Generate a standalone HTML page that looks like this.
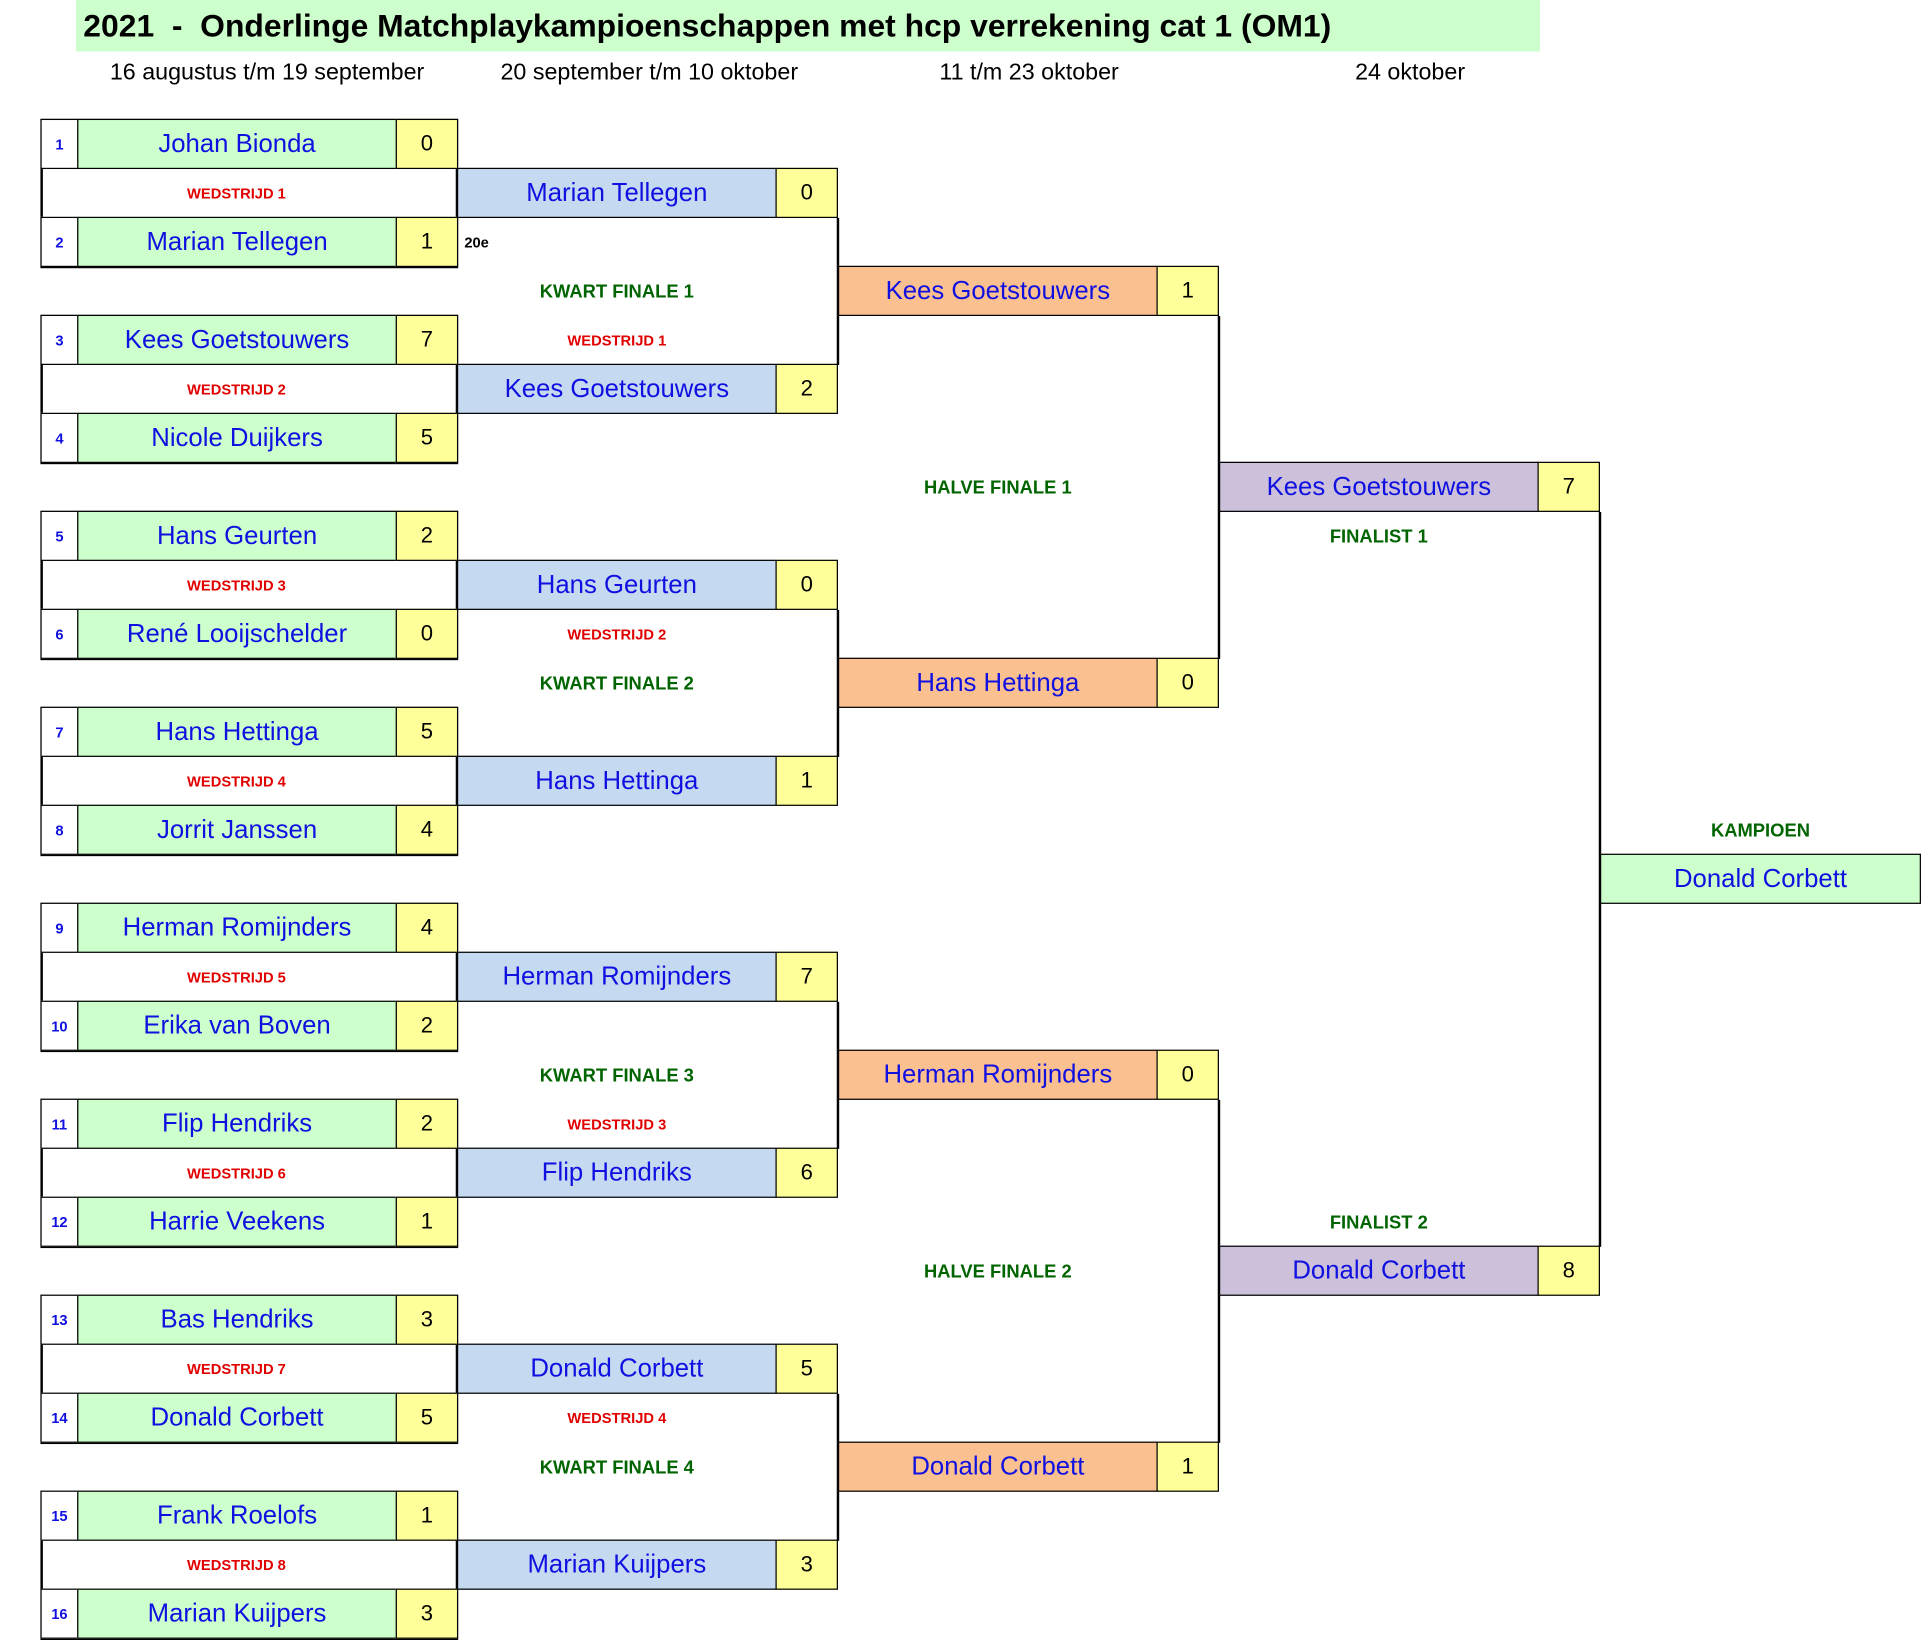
<!DOCTYPE html>
<html><head><meta charset="utf-8"><style>
html,body{margin:0;padding:0;background:#fff;width:1921px;height:1640px;overflow:hidden}
#w{position:absolute;left:0;top:0;width:1568px;height:1339px;transform:scale(1.2251,1.2248);transform-origin:0 0;font-family:"Liberation Sans",sans-serif}
#w div{position:absolute;box-sizing:border-box}
.b{border:1.5px solid #000;display:flex;align-items:center;justify-content:center;height:41px;color:#1010e0;font-size:21px;white-space:nowrap}
.g{background:#ccffcc}.y{background:#ffff99;color:#000!important;font-size:18px!important}.bl{background:#c5d9f1}.o{background:#fac090}.p{background:#ccc0da}.wt{background:#fff}
.n{font-size:12px!important;font-weight:bold}
.t{display:flex;align-items:center;justify-content:center;height:40px;font-weight:bold;white-space:nowrap}
.r{color:#e00000;font-size:12px}.gr{color:#006400;font-size:15px}
.v{background:#000;width:1.5px}
.h{font-size:19px;color:#000;white-space:nowrap;height:30px;display:flex;align-items:center;justify-content:center}
</style></head><body><div id="w">
<div style="left:62px;top:0;width:1195px;height:42px;background:#ccffcc;font-weight:bold;font-size:26px;padding-left:6px;line-height:42px;white-space:nowrap">2021 &nbsp;- &nbsp;Onderlinge Matchplaykampioenschappen met hcp verrekening cat 1 (OM1)</div>
<div class="h" style="left:68px;top:45px;width:300px">16 augustus t/m 19 september</div>
<div class="h" style="left:380px;top:45px;width:300px">20 september t/m 10 oktober</div>
<div class="h" style="left:690px;top:45px;width:300px">11 t/m 23 oktober</div>
<div class="h" style="left:1001px;top:45px;width:300px">24 oktober</div>

<div style="left:33px;top:97px;width:341px;height:122px;border:2px solid #000"></div>
<div class="b wt n" style="left:33px;top:97px;width:31px">1</div><div class="b g" style="left:63px;top:97px;width:261px">Johan Bionda</div><div class="b y" style="left:323px;top:97px;width:51px">0</div>
<div class="t r" style="left:33px;top:138px;width:320px">WEDSTRIJD 1</div>
<div class="b wt n" style="left:33px;top:177px;width:31px">2</div><div class="b g" style="left:63px;top:177px;width:261px">Marian Tellegen</div><div class="b y" style="left:323px;top:177px;width:51px">1</div>

<div style="left:33px;top:257px;width:341px;height:122px;border:2px solid #000"></div>
<div class="b wt n" style="left:33px;top:257px;width:31px">3</div><div class="b g" style="left:63px;top:257px;width:261px">Kees Goetstouwers</div><div class="b y" style="left:323px;top:257px;width:51px">7</div>
<div class="t r" style="left:33px;top:298px;width:320px">WEDSTRIJD 2</div>
<div class="b wt n" style="left:33px;top:337px;width:31px">4</div><div class="b g" style="left:63px;top:337px;width:261px">Nicole Duijkers</div><div class="b y" style="left:323px;top:337px;width:51px">5</div>

<div style="left:33px;top:417px;width:341px;height:122px;border:2px solid #000"></div>
<div class="b wt n" style="left:33px;top:417px;width:31px">5</div><div class="b g" style="left:63px;top:417px;width:261px">Hans Geurten</div><div class="b y" style="left:323px;top:417px;width:51px">2</div>
<div class="t r" style="left:33px;top:458px;width:320px">WEDSTRIJD 3</div>
<div class="b wt n" style="left:33px;top:497px;width:31px">6</div><div class="b g" style="left:63px;top:497px;width:261px">René Looijschelder</div><div class="b y" style="left:323px;top:497px;width:51px">0</div>

<div style="left:33px;top:577px;width:341px;height:122px;border:2px solid #000"></div>
<div class="b wt n" style="left:33px;top:577px;width:31px">7</div><div class="b g" style="left:63px;top:577px;width:261px">Hans Hettinga</div><div class="b y" style="left:323px;top:577px;width:51px">5</div>
<div class="t r" style="left:33px;top:618px;width:320px">WEDSTRIJD 4</div>
<div class="b wt n" style="left:33px;top:657px;width:31px">8</div><div class="b g" style="left:63px;top:657px;width:261px">Jorrit Janssen</div><div class="b y" style="left:323px;top:657px;width:51px">4</div>

<div style="left:33px;top:737px;width:341px;height:122px;border:2px solid #000"></div>
<div class="b wt n" style="left:33px;top:737px;width:31px">9</div><div class="b g" style="left:63px;top:737px;width:261px">Herman Romijnders</div><div class="b y" style="left:323px;top:737px;width:51px">4</div>
<div class="t r" style="left:33px;top:778px;width:320px">WEDSTRIJD 5</div>
<div class="b wt n" style="left:33px;top:817px;width:31px">10</div><div class="b g" style="left:63px;top:817px;width:261px">Erika van Boven</div><div class="b y" style="left:323px;top:817px;width:51px">2</div>

<div style="left:33px;top:897px;width:341px;height:122px;border:2px solid #000"></div>
<div class="b wt n" style="left:33px;top:897px;width:31px">11</div><div class="b g" style="left:63px;top:897px;width:261px">Flip Hendriks</div><div class="b y" style="left:323px;top:897px;width:51px">2</div>
<div class="t r" style="left:33px;top:938px;width:320px">WEDSTRIJD 6</div>
<div class="b wt n" style="left:33px;top:977px;width:31px">12</div><div class="b g" style="left:63px;top:977px;width:261px">Harrie Veekens</div><div class="b y" style="left:323px;top:977px;width:51px">1</div>

<div style="left:33px;top:1057px;width:341px;height:122px;border:2px solid #000"></div>
<div class="b wt n" style="left:33px;top:1057px;width:31px">13</div><div class="b g" style="left:63px;top:1057px;width:261px">Bas Hendriks</div><div class="b y" style="left:323px;top:1057px;width:51px">3</div>
<div class="t r" style="left:33px;top:1098px;width:320px">WEDSTRIJD 7</div>
<div class="b wt n" style="left:33px;top:1137px;width:31px">14</div><div class="b g" style="left:63px;top:1137px;width:261px">Donald Corbett</div><div class="b y" style="left:323px;top:1137px;width:51px">5</div>

<div style="left:33px;top:1217px;width:341px;height:122px;border:2px solid #000"></div>
<div class="b wt n" style="left:33px;top:1217px;width:31px">15</div><div class="b g" style="left:63px;top:1217px;width:261px">Frank Roelofs</div><div class="b y" style="left:323px;top:1217px;width:51px">1</div>
<div class="t r" style="left:33px;top:1258px;width:320px">WEDSTRIJD 8</div>
<div class="b wt n" style="left:33px;top:1297px;width:31px">16</div><div class="b g" style="left:63px;top:1297px;width:261px">Marian Kuijpers</div><div class="b y" style="left:323px;top:1297px;width:51px">3</div>

<div class="b bl" style="left:373px;top:137px;width:261px">Marian Tellegen</div><div class="b y" style="left:633px;top:137px;width:51px">0</div>
<div class="b bl" style="left:373px;top:297px;width:261px">Kees Goetstouwers</div><div class="b y" style="left:633px;top:297px;width:51px">2</div>
<div class="b bl" style="left:373px;top:457px;width:261px">Hans Geurten</div><div class="b y" style="left:633px;top:457px;width:51px">0</div>
<div class="b bl" style="left:373px;top:617px;width:261px">Hans Hettinga</div><div class="b y" style="left:633px;top:617px;width:51px">1</div>
<div class="b bl" style="left:373px;top:777px;width:261px">Herman Romijnders</div><div class="b y" style="left:633px;top:777px;width:51px">7</div>
<div class="b bl" style="left:373px;top:937px;width:261px">Flip Hendriks</div><div class="b y" style="left:633px;top:937px;width:51px">6</div>
<div class="b bl" style="left:373px;top:1097px;width:261px">Donald Corbett</div><div class="b y" style="left:633px;top:1097px;width:51px">5</div>
<div class="b bl" style="left:373px;top:1257px;width:261px">Marian Kuijpers</div><div class="b y" style="left:633px;top:1257px;width:51px">3</div>
<div class="t" style="left:379px;top:178px;width:30px;font-size:12px;justify-content:flex-start">20e</div>
<div class="v" style="left:683px;top:178px;height:120px"></div>
<div class="v" style="left:683px;top:498px;height:120px"></div>
<div class="v" style="left:683px;top:818px;height:120px"></div>
<div class="v" style="left:683px;top:1138px;height:120px"></div>
<div class="t gr" style="left:373px;top:218px;width:261px">KWART FINALE 1</div>
<div class="t r" style="left:373px;top:258px;width:261px">WEDSTRIJD 1</div>
<div class="t r" style="left:373px;top:498px;width:261px">WEDSTRIJD 2</div>
<div class="t gr" style="left:373px;top:538px;width:261px">KWART FINALE 2</div>
<div class="t gr" style="left:373px;top:858px;width:261px">KWART FINALE 3</div>
<div class="t r" style="left:373px;top:898px;width:261px">WEDSTRIJD 3</div>
<div class="t r" style="left:373px;top:1138px;width:261px">WEDSTRIJD 4</div>
<div class="t gr" style="left:373px;top:1178px;width:261px">KWART FINALE 4</div>

<div class="b o" style="left:684px;top:217px;width:261px">Kees Goetstouwers</div><div class="b y" style="left:944px;top:217px;width:51px">1</div>
<div class="b o" style="left:684px;top:537px;width:261px">Hans Hettinga</div><div class="b y" style="left:944px;top:537px;width:51px">0</div>
<div class="b o" style="left:684px;top:857px;width:261px">Herman Romijnders</div><div class="b y" style="left:944px;top:857px;width:51px">0</div>
<div class="b o" style="left:684px;top:1177px;width:261px">Donald Corbett</div><div class="b y" style="left:944px;top:1177px;width:51px">1</div>
<div class="v" style="left:994px;top:258px;height:280px"></div>
<div class="v" style="left:994px;top:898px;height:280px"></div>
<div class="t gr" style="left:684px;top:378px;width:261px">HALVE FINALE 1</div>
<div class="t gr" style="left:684px;top:1018px;width:261px">HALVE FINALE 2</div>

<div class="b p" style="left:995px;top:377px;width:261px">Kees Goetstouwers</div><div class="b y" style="left:1255px;top:377px;width:51px">7</div>
<div class="b p" style="left:995px;top:1017px;width:261px">Donald Corbett</div><div class="b y" style="left:1255px;top:1017px;width:51px">8</div>
<div class="v" style="left:1305px;top:418px;height:600px"></div>
<div class="t gr" style="left:995px;top:418px;width:261px">FINALIST 1</div>
<div class="t gr" style="left:995px;top:978px;width:261px">FINALIST 2</div>

<div class="t gr" style="left:1307px;top:658px;width:260px">KAMPIOEN</div>
<div class="b g" style="left:1306px;top:697px;width:262px">Donald Corbett</div>
</div></body></html>
